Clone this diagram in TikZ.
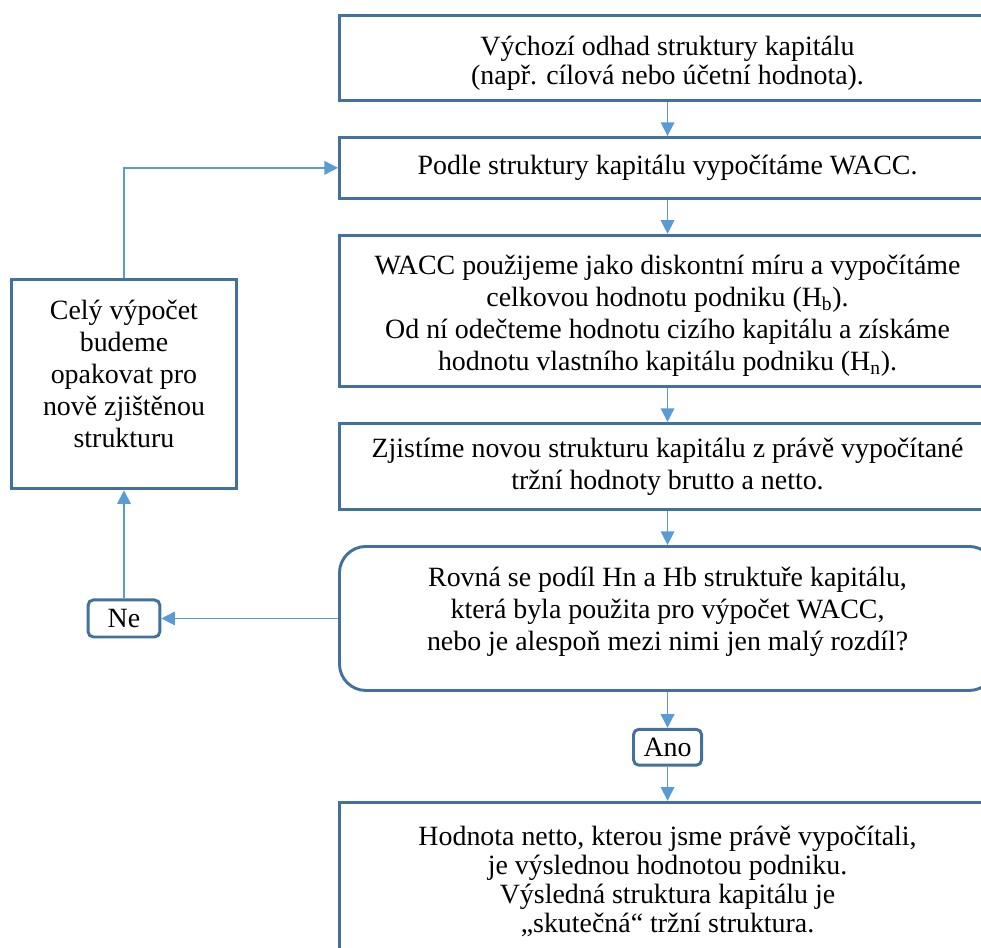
\documentclass[tikz,border=0pt]{standalone}
\usepackage{fontspec}
\setmainfont{Liberation Serif}
\usetikzlibrary{arrows.meta,positioning}
\definecolor{boxblue}{RGB}{65,113,156}
\definecolor{flowblue}{RGB}{91,155,213}

\begin{document}
\begin{tikzpicture}[node distance=0.9cm,
	stepbox/.style={draw=boxblue, line width=2.2pt, fill=white, minimum width=17.36cm, align=center, font=\fontsize{21}{24}\selectfont},
	askbox/.style={stepbox, rounded corners=0.7cm},
	tagbox/.style={draw=boxblue, line width=2.2pt, fill=white, rounded corners=4pt, minimum width=1.8cm, minimum height=0.95cm, inner sep=0pt, font=\fontsize{21}{24}\selectfont},
	flow/.style={-{Triangle[length=3.6mm, width=3.6mm]}, line width=1.1pt, draw=flowblue}]
	\useasboundingbox (0,0) rectangle (25.955,-25.056);

	\node[stepbox, minimum height=2.25cm, anchor=north west, font=\fontsize{21}{22.5}\selectfont] (start) at (8.943,-0.37) {~\\Výchozí odhad struktury kapitálu\\(např. cílová nebo účetní hodnota).};
	\node[stepbox, minimum height=1.61cm, below=of start] (wacc) {Podle struktury kapitálu vypočítáme WACC.};
	\node[stepbox, minimum height=4.0cm, below=of wacc] (value) {~\\[-2pt]WACC použijeme jako diskontní míru a vypočítáme\\celkovou hodnotu podniku (H\textsubscript{b}).\\Od ní odečteme hodnotu cizího kapitálu a získáme\\hodnotu vlastního kapitálu podniku (H\textsubscript{n}).};
	\node[stepbox, minimum height=2.28cm, below=of value] (newstruct) {Zjistíme novou strukturu kapitálu z právě vypočítané\\tržní hodnoty brutto a netto.};
	\node[askbox, minimum height=3.81cm, below=of newstruct] (check) {Rovná se podíl Hn a Hb struktuře kapitálu,\\která byla použita pro výpočet WACC,\\nebo je alespoň mezi nimi jen malý rozdíl?\\[-10pt]~};
	\node[tagbox, below=0.95cm of check] (yes) {Ano};
	\node[stepbox, minimum height=4.2cm, below=of yes, font=\fontsize{21}{22}\selectfont] (result) {Hodnota netto, kterou jsme právě vypočítali,\\je výslednou hodnotou podniku.\\Výsledná struktura kapitálu je\\„skutečná“ tržní struktura.};

	\node[stepbox, minimum width=5.93cm, minimum height=5.53cm] (repeat) at (3.28,-10.17) {Celý výpočet\\budeme\\opakovat pro\\nově zjištěnou\\strukturu\\[-8pt]~};
	\node[tagbox, minimum width=1.9cm, minimum height=0.98cm] (no) at (repeat |- check) {Ne};

	\draw[flow] (start) -- (wacc);
	\draw[flow] (wacc) -- (value);
	\draw[flow] (value) -- (newstruct);
	\draw[flow] (newstruct) -- (check);
	\draw[flow] (check) -- (yes);
	\draw[flow] (yes) -- (result);
	\draw[flow] (check) -- (no);
	\draw[flow] (no) -- (repeat);
	\draw[flow] (repeat.north) |- (wacc.west);
\end{tikzpicture}
\end{document}
